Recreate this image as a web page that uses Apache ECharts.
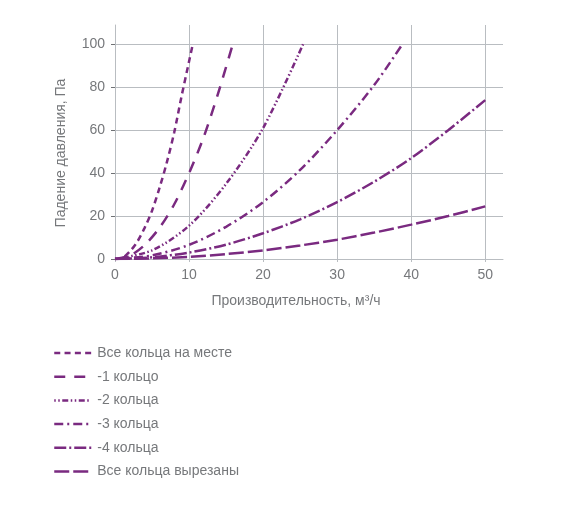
<!DOCTYPE html>
<html>
<head>
<meta charset="utf-8">
<script src="https://cdn.jsdelivr.net/npm/echarts@6/dist/echarts.min.js"></script>
<style>
    html, body { margin: 0; padding: 0; background: #fff; }
    #chart { width: 570px; height: 510px; }
</style>
</head>
<body>
<div id="chart"></div>
<script>
    // подписи серий
    const seriesNames = ['Все кольца на месте', '-1 кольцо', '-2 кольца', '-3 кольца', '-4 кольца', 'Все кольца вырезаны'];

    // [производительность, падение давления]
    const allRings = [[0, 0], [1, 0.5], [2, 3.5], [3, 8], [4, 14.5], [5, 22.5], [6, 33], [7, 45], [8, 59], [9, 76], [10, 92], [10.5, 100]];
    const minus1 = [[0, 0], [2, 1.5], [4, 6.5], [6, 14.5], [8, 25.5], [10, 40], [12, 57], [14, 78], [15.9, 100]];
    const minus2 = [[0, 0], [5, 4], [10, 15.5], [15, 35], [20, 61], [25.4, 100]];
    const minus3 = [[0, 0], [5, 1.7], [10, 6.6], [15, 15], [20, 26.5], [25, 41.5], [30, 60], [35, 81], [38.8, 100]];
    const minus4 = [[0, 0], [5, 0.8], [10, 3], [15, 6.7], [20, 12], [25, 18.5], [30, 26.5], [35, 36], [40, 47], [45, 60], [50, 74]];
    const allCut = [[0, 0], [5, 0.3], [10, 1], [15, 2.3], [20, 4], [25, 6.3], [30, 9], [35, 12.3], [40, 16], [45, 20], [50, 24.5]];

    const seriesData = [allRings, minus1, minus2, minus3, minus4, allCut];
    const dashTypes = [
        [6, 4.3],
        [11, 9],
        [1.5, 2.5, 1.5, 2.5, 6, 2.5],
        [9, 4, 2, 4],
        [12, 3, 2, 3],
        [15, 4]
    ];

    const purple = '#7a2a80';
    const gridColor = '#b9bdc1';
    const textColor = '#76787b';
    const font = 'Liberation Sans, Arial, sans-serif';

    const chart = echarts.init(document.getElementById('chart'));

    chart.setOption({
        animation: false,
        textStyle: { fontFamily: font },
        grid: { left: 115, right: 67, top: 25, bottom: 251 },
        legend: {
            orient: 'vertical',
            left: 53,
            top: 346,
            padding: 0,
            itemWidth: 37,
            itemHeight: 14,
            itemGap: 9.7,
            data: seriesNames,
            itemStyle: { color: 'rgba(0,0,0,0)', borderWidth: 0, opacity: 0 },
            lineStyle: { width: 2.5 },
            textStyle: { color: textColor, fontSize: 14, fontFamily: font, padding: [0, 0, 0, 1] }
        },
        xAxis: {
            type: 'value',
            min: 0,
            max: 52.4,
            interval: 10,
            name: 'Производительность, м³/ч',
            nameLocation: 'middle',
            nameGap: 35,
            nameTextStyle: { color: textColor, fontSize: 14, padding: [0, 26, 0, 0] },
            axisLine: { show: true, lineStyle: { color: gridColor } },
            axisTick: { show: true, length: 3, lineStyle: { color: gridColor } },
            axisLabel: { color: textColor, fontSize: 14, margin: 9, showMaxLabel: false },
            splitLine: { show: true, showMaxLine: false, lineStyle: { color: gridColor, width: 1 } }
        },
        yAxis: {
            type: 'value',
            min: 0,
            max: 109,
            interval: 20,
            name: 'Падение давления, Па',
            nameLocation: 'middle',
            nameGap: 47,
            nameTextStyle: { color: textColor, fontSize: 14, padding: [0, 22, 0, 0] },
            axisLine: { show: true, lineStyle: { color: gridColor } },
            axisTick: { show: true, length: 4, lineStyle: { color: '#6f7174' } },
            axisLabel: { color: textColor, fontSize: 14, margin: 10, showMaxLabel: false },
            splitLine: { show: true, showMaxLine: false, lineStyle: { color: gridColor, width: 1 } }
        },
        series: seriesNames.map((name, i) => ({
            name: name,
            type: 'line',
            data: seriesData[i],
            smooth: 0.3,
            symbol: 'none',
            lineStyle: { color: purple, width: 2.5, type: dashTypes[i] },
            itemStyle: { color: purple }
        }))
    });
</script>
</body>
</html>
